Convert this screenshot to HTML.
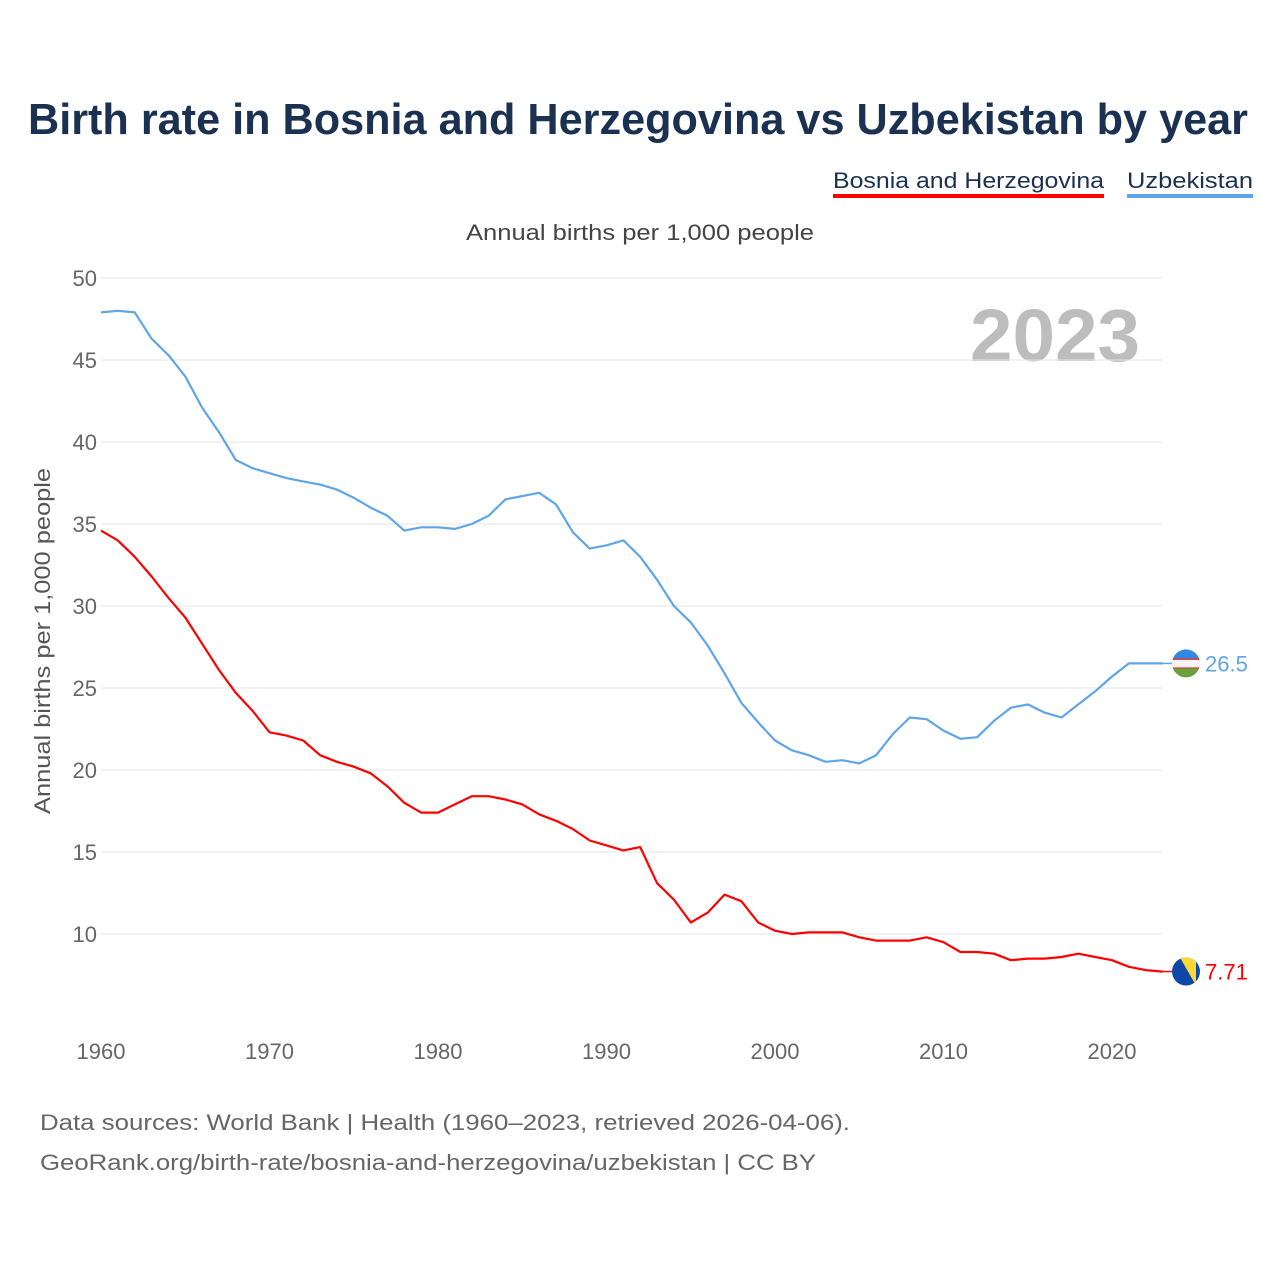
<!DOCTYPE html>
<html><head><meta charset="utf-8"><style>
html,body{margin:0;padding:0;background:#fff;}
svg{display:block;font-family:"Liberation Sans",sans-serif;}
</style></head><body>
<svg id="chart" width="1280" height="1280" viewBox="0 0 1280 1280">
<text x="638" y="134" text-anchor="middle" font-size="44" font-weight="bold" fill="#1b3152" textLength="1220" lengthAdjust="spacingAndGlyphs">Birth rate in Bosnia and Herzegovina vs Uzbekistan by year</text>
<g>
<text x="833" y="188" font-size="22" fill="#1b3152" textLength="271" lengthAdjust="spacingAndGlyphs">Bosnia and Herzegovina</text>
<rect x="833" y="194" width="271" height="4" fill="#ff0000"/>
</g>
<g>
<text x="1127" y="188" font-size="22" fill="#1b3152" textLength="126" lengthAdjust="spacingAndGlyphs">Uzbekistan</text>
<rect x="1127" y="194" width="126" height="4" fill="#5fa5ea"/>
</g>
<text x="640" y="240" text-anchor="middle" font-size="22" fill="#444" textLength="348" lengthAdjust="spacingAndGlyphs">Annual births per 1,000 people</text>
<text x="1140" y="361" text-anchor="end" font-size="74" font-weight="bold" fill="#bdbdbd" textLength="170" lengthAdjust="spacingAndGlyphs">2023</text>
<text transform="translate(50,641) rotate(-90)" text-anchor="middle" font-size="22" fill="#555" textLength="346" lengthAdjust="spacingAndGlyphs">Annual births per 1,000 people</text>
<g id="grid"></g><g id="yticks"></g><g id="xticks"></g><g id="lines"></g><g id="ends"></g>
<text x="40" y="1130" font-size="22" fill="#666" textLength="810" lengthAdjust="spacingAndGlyphs">Data sources: World Bank | Health (1960–2023, retrieved 2026-04-06).</text>
<text x="40" y="1170" font-size="22" fill="#666" textLength="776" lengthAdjust="spacingAndGlyphs">GeoRank.org/birth-rate/bosnia-and-herzegovina/uzbekistan | CC BY</text>
</svg>
<script>
const startYear = 1960;
const yTicks = [10,15,20,25,30,35,40,45,50];
const xTicks = [1960,1970,1980,1990,2000,2010,2020];
const uzbekistan = [47.9,48.0,47.9,46.3,45.3,44.0,42.1,40.6,38.9,38.4,38.1,37.8,37.6,37.4,37.1,36.6,36.0,35.5,34.6,34.8,34.8,34.7,35.0,35.5,36.5,36.7,36.9,36.2,34.5,33.5,33.7,34.0,33.0,31.6,30.0,29.0,27.6,25.9,24.1,22.9,21.8,21.2,20.9,20.5,20.6,20.4,20.9,22.2,23.2,23.1,22.4,21.9,22.0,23.0,23.8,24.0,23.5,23.2,24.0,24.8,25.7,26.5,26.5,26.5];
const bosnia = [34.6,34.0,33.0,31.8,30.5,29.3,27.7,26.1,24.7,23.6,22.3,22.1,21.8,20.9,20.5,20.2,19.8,19.0,18.0,17.4,17.4,17.9,18.4,18.4,18.2,17.9,17.3,16.9,16.4,15.7,15.4,15.1,15.3,13.1,12.1,10.7,11.3,12.4,12.0,10.7,10.2,10.0,10.1,10.1,10.1,9.8,9.6,9.6,9.6,9.8,9.5,8.9,8.9,8.8,8.4,8.5,8.5,8.6,8.8,8.6,8.4,8.0,7.8,7.71];
const endLabels = ["26.5","7.71"];

const NS="http://www.w3.org/2000/svg";
const X=yr=>101+(yr-1960)*(1011/60);
const Y=v=>278+(50-v)*16.4;
function mk(tag,attrs,parent,text){const e=document.createElementNS(NS,tag);for(const k in attrs)e.setAttribute(k,attrs[k]);if(text!==undefined)e.textContent=text;parent.appendChild(e);return e;}
const grid=document.getElementById('grid'),yt=document.getElementById('yticks'),xt=document.getElementById('xticks'),lines=document.getElementById('lines'),ends=document.getElementById('ends');
yTicks.forEach(v=>{
  const l=mk('line',{x1:101,x2:1162,y1:Y(v),y2:Y(v),stroke:'#e6e6e6','stroke-width':1},grid);
  
  
  const t=mk('text',{x:97,y:Y(v)+8,'text-anchor':'end','font-size':22,fill:'#666'},yt,String(v));
  
  
});
xTicks.forEach(yr=>{
  const t=mk('text',{x:X(yr),y:1059,'text-anchor':'middle','font-size':22,fill:'#666'},xt,String(yr));
  
  
});
function series(data,color,name){
  const d=data.map((v,i)=>(i?'L':'M')+X(startYear+i).toFixed(1)+','+Y(v).toFixed(1)).join(' ');
  const p=mk('path',{d:d,fill:'none',stroke:color,'stroke-width':2.2,'stroke-linejoin':'round'},lines);
  
  
}
series(uzbekistan,'#5fa5ea','uzbekistan');
series(bosnia,'#ff0000','bosnia');
function endMark(data,color,name,label,flag){
  const last=data[data.length-1],x=X(startYear+data.length-1),y=Y(last);
  mk('line',{x1:x,x2:1172,y1:y,y2:y,stroke:color,'stroke-width':1.5},ends);
  const g=mk('g',{},ends);
  
  
  flag(g,1186,y);
  const t=mk('text',{x:1205,y:y+8,'font-size':22,fill:color},ends,label);
  
  
}
endMark(uzbekistan,'#5fa5ea','uzbekistan',endLabels[0],(g,cx,cy)=>{
  const id='cu';mk('clipPath',{id:id},g);g.lastChild.appendChild(document.createElementNS(NS,'circle'));
  const c=g.lastChild.firstChild;c.setAttribute('cx',cx);c.setAttribute('cy',cy);c.setAttribute('r',14);
  const h=mk('g',{'clip-path':'url(#'+id+')'},g);
  mk('rect',{x:cx-14,y:cy-14,width:28,height:10,fill:'#2f8ae6'},h);
  mk('rect',{x:cx-14,y:cy-4,width:28,height:9,fill:'#f4f4f4'},h);
  mk('rect',{x:cx-14,y:cy-5,width:28,height:1.5,fill:'#d33'},h);
  mk('rect',{x:cx-14,y:cy+4,width:28,height:1.5,fill:'#d33'},h);
  mk('rect',{x:cx-14,y:cy+5,width:28,height:10,fill:'#6a9f3c'},h);
});
endMark(bosnia,'#ff0000','bosnia',endLabels[1],(g,cx,cy)=>{
  const id='cb';mk('clipPath',{id:id},g);g.lastChild.appendChild(document.createElementNS(NS,'circle'));
  const c=g.lastChild.firstChild;c.setAttribute('cx',cx);c.setAttribute('cy',cy);c.setAttribute('r',14);
  const h=mk('g',{'clip-path':'url(#'+id+')'},g);
  mk('rect',{x:cx-14,y:cy-14,width:28,height:28,fill:'#0d47a8'},h);
  mk('polygon',{points:(cx-6)+','+(cy-14)+' '+(cx+10)+','+(cy-14)+' '+(cx+10)+','+(cy+14),fill:'#fdd835'},h);
});
</script>
</body></html>
